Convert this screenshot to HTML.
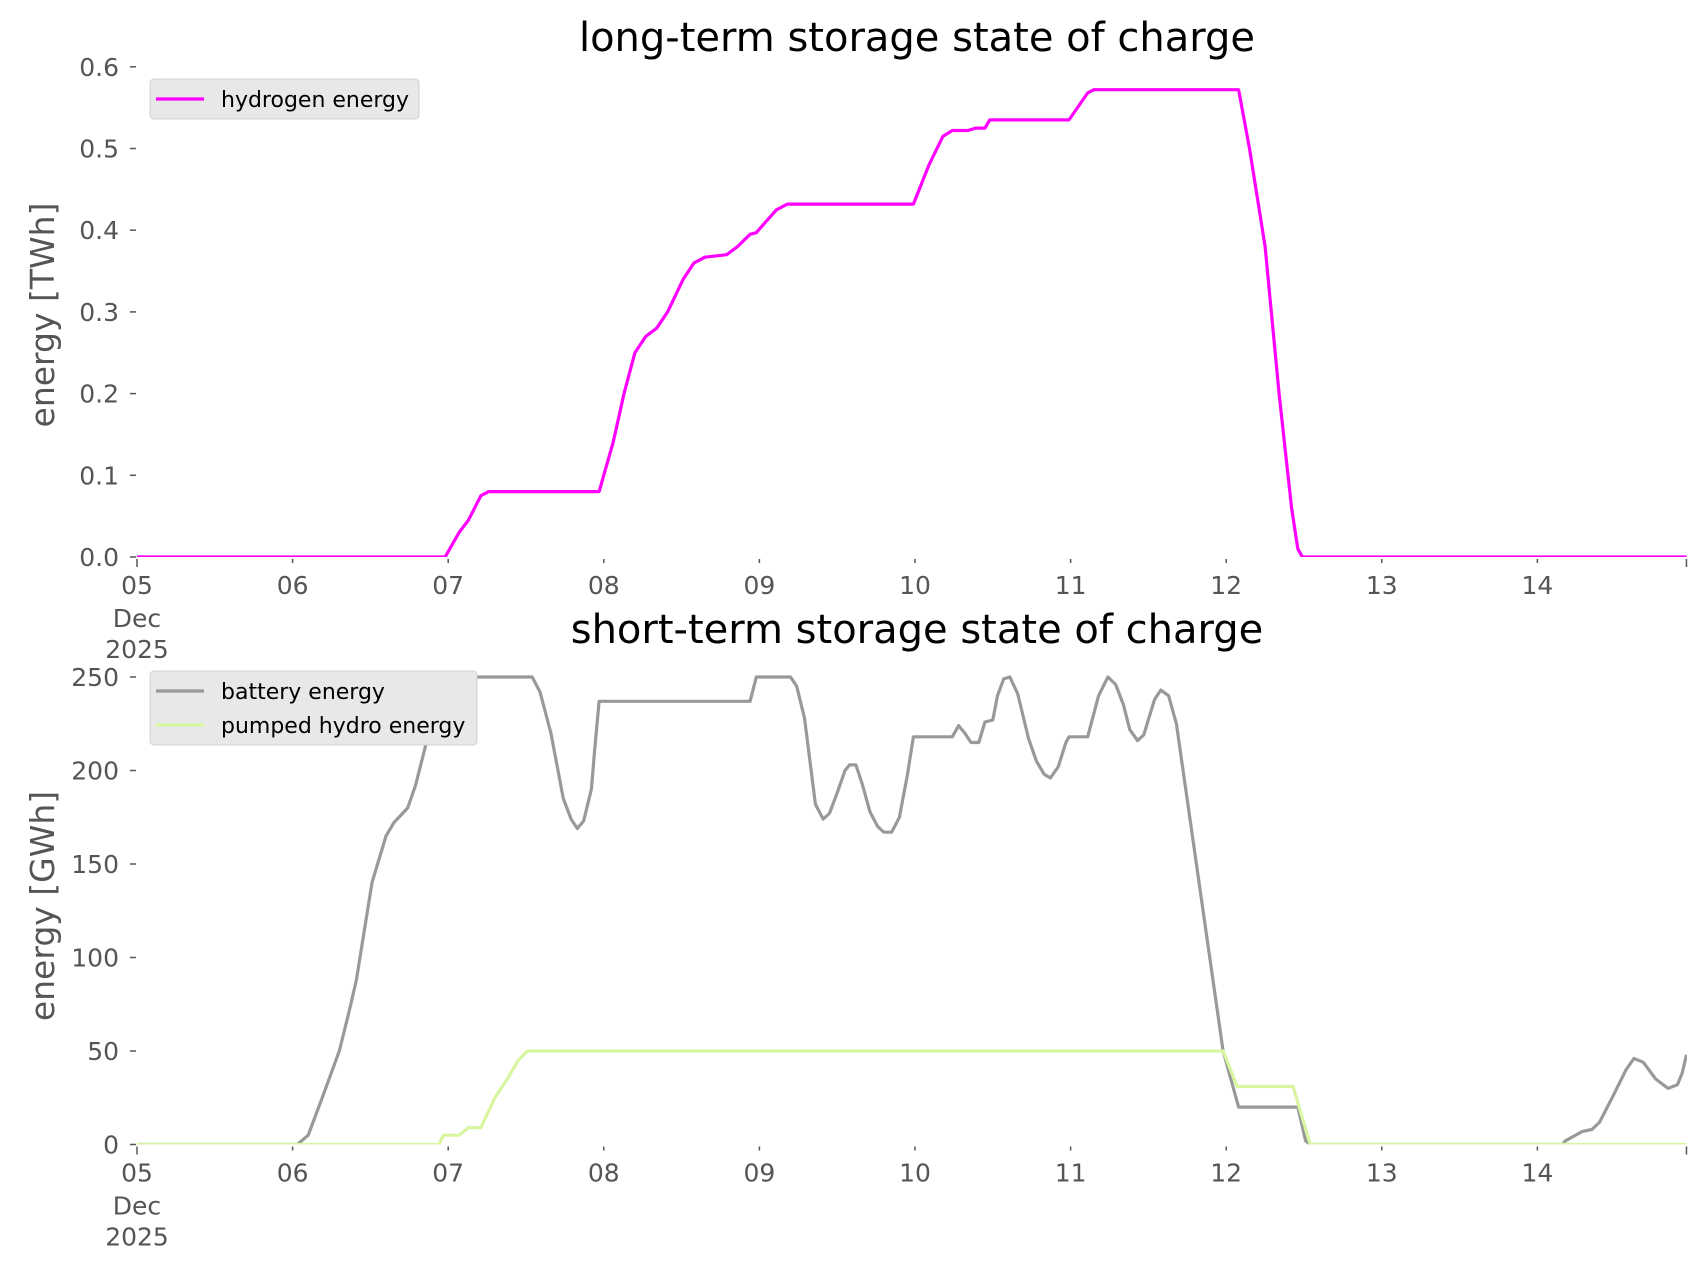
<!DOCTYPE html>
<html><head><meta charset="utf-8"><style>
body{margin:0;background:#fff}
svg{display:block;font-family:"DejaVu Sans","Liberation Sans",sans-serif}
</style></head><body>
<svg id="chart" width="1706" height="1277" viewBox="0 0 1706 1277" xmlns="http://www.w3.org/2000/svg">
<defs>
<clipPath id="clipTop"><rect x="137" y="40" width="1550" height="517"/></clipPath>
<clipPath id="clipBot"><rect x="137" y="640" width="1550" height="504.5"/></clipPath>
</defs>
<g id="topg"></g>
<g id="botg"></g>
</svg>
<script>
const dayLabels=["05","06","07","08","09","10","11","12","13","14"];
const topTicks=[0,0.1,0.2,0.3,0.4,0.5,0.6];
const botTicks=[0,50,100,150,200,250];
const h2Days=[0,1.98,2.07,2.13,2.21,2.26,2.97,3.06,3.13,3.2,3.27,3.34,3.41,3.51,3.58,3.65,3.79,3.86,3.94,3.98,4.04,4.11,4.18,4.99,5.09,5.18,5.24,5.34,5.39,5.45,5.48,5.99,6.11,6.15,7.08,7.15,7.2,7.25,7.29,7.34,7.38,7.42,7.46,7.49,9.958];
const h2Vals=[0,0,0.03,0.045,0.075,0.08,0.08,0.14,0.2,0.25,0.27,0.28,0.3,0.34,0.36,0.367,0.37,0.38,0.395,0.397,0.41,0.425,0.432,0.432,0.48,0.515,0.522,0.522,0.525,0.525,0.535,0.535,0.568,0.572,0.572,0.5,0.44,0.38,0.3,0.2,0.13,0.06,0.01,0,0];
const batDays=[0,1.03,1.10,1.19,1.30,1.36,1.41,1.51,1.60,1.65,1.74,1.79,1.86,1.93,1.97,2.54,2.59,2.66,2.74,2.79,2.83,2.87,2.92,2.94,2.97,3.94,3.98,4.20,4.24,4.29,4.36,4.41,4.45,4.50,4.55,4.58,4.62,4.66,4.71,4.76,4.80,4.85,4.90,4.95,4.99,5.24,5.28,5.32,5.36,5.41,5.45,5.50,5.53,5.57,5.61,5.66,5.73,5.78,5.83,5.87,5.92,5.97,5.99,6.11,6.18,6.24,6.29,6.34,6.38,6.43,6.47,6.54,6.58,6.63,6.68,6.98,7.08,7.46,7.51,7.54,9.16,9.18,9.29,9.35,9.4,9.48,9.57,9.62,9.68,9.76,9.84,9.9,9.93,9.958];
const batVals=[0,0,5,25,50,70,88,140,165,172,180,192,215,240,250,250,242,220,185,174,169,173,190,210,237,237,250,250,245,228,182,174,177,188,200,203,203,193,178,170,167,167,175,197,218,218,224,220,215,215,226,227,240,249,250,241,217,205,198,196,202,215,218,218,240,250,246,235,222,216,219,238,243,240,225,50,20,20,2,0,0,2,7,8,12,25,40,46,44,35,30,32,38,48];
const phDays=[0,1.94,1.97,2.07,2.13,2.21,2.30,2.38,2.45,2.51,6.98,7.07,7.43,7.54,9.958];
const phVals=[0,0,5,5,9,9,25,35,45,50,50,31,31,0,0];

const NS="http://www.w3.org/2000/svg";
const X0=137,DAY=155.6,XEND=9.958;
const xs=d=>X0+d*DAY;
const yTop=v=>557-v*817;
const yBot=v=>1144.5-v*1.87;
function mk(tag,attrs,parent,text){const e=document.createElementNS(NS,tag);for(const k in attrs)e.setAttribute(k,attrs[k]);if(text!==undefined)e.textContent=text;parent.appendChild(e);return e;}

function panel(g,yf,ticks,fmt,axisY,titleY,title,ylabel,labelY){
  let t=mk('text',{x:917,y:titleY,'font-size':40,'text-anchor':'middle',fill:'#000'},g,title);
  
  
  let yl=mk('text',{x:0,y:0,'font-size':33,'text-anchor':'middle',fill:'#555',transform:`translate(54,${labelY}) rotate(-90)`},g,ylabel);
  
  
  ticks.forEach(v=>{
    const y=yf(v);
    let tm=mk('line',{x1:130,x2:136,y1:y,y2:y,stroke:'#555','stroke-width':1.5},g);
    
    
    let tl=mk('text',{x:119,y:y+9,'font-size':25,'text-anchor':'end',fill:'#555'},g,fmt(v));
    
    
  });
  const tickDays=[0,1,2,3,4,5,6,7,8,9,XEND];
  tickDays.forEach((d,i)=>{
    const x=xs(d);
    let tm=mk('line',{x1:x,x2:x,y1:axisY+2,y2:axisY+(i===0||i===10?10:6),stroke:'#555','stroke-width':1.5},g);
    
    
    if(i<10){
      let tl=mk('text',{x:x,y:axisY+37,'font-size':25,'text-anchor':'middle',fill:'#555'},g,dayLabels[i]);
      
      
    }
  });
  let m=mk('text',{x:X0,y:axisY+70,'font-size':25,'text-anchor':'middle',fill:'#555'},g,'Dec');
  
  
  let yr=mk('text',{x:X0,y:axisY+101,'font-size':25,'text-anchor':'middle',fill:'#555'},g,'2025');
  
  
}
function series(g,days,vals,yf,color,clip,name){
  const d=days.map((dd,i)=>(i?'L':'M')+xs(dd).toFixed(1)+','+yf(vals[i]).toFixed(1)).join(' ');
  let p=mk('path',{d:d,fill:'none',stroke:color,'stroke-width':3.2,'stroke-linejoin':'round','clip-path':`url(#${clip})`},g);
  
  
}
function legend(g,x,y,w,entries){
  const h=entries.length*34+6;
  let r=mk('rect',{x:x,y:y,width:w,height:h,rx:4,fill:'#e8e8e8',stroke:'#d0d0d0'},g);
  
  
  entries.forEach((e,i)=>{
    const cy=y+20+i*34;
    let l=mk('line',{x1:x+6,x2:x+54,y1:cy,y2:cy,stroke:e[1],'stroke-width':3.2},g);
    
    
    let t=mk('text',{x:x+71,y:cy+8,'font-size':22,fill:'#000'},g,e[0]);
    
    
  });
}
const topPanel=document.getElementById('topg'),botPanel=document.getElementById('botg');
panel(topPanel,yTop,topTicks,v=>v.toFixed(1),557,51,'long-term storage state of charge','energy [TWh]',315);
series(topPanel,h2Days,h2Vals,yTop,'#ff00ff','clipTop','hydrogen-line');
legend(topPanel,150,79,269,[['hydrogen energy','#ff00ff']]);
panel(botPanel,yBot,botTicks,v=>String(v),1144.5,643,'short-term storage state of charge','energy [GWh]',906);
series(botPanel,batDays,batVals,yBot,'#999999','clipBot','battery-line');
series(botPanel,phDays,phVals,yBot,'#d8f5a0','clipBot','pumped-hydro-line');
legend(botPanel,150,671,327,[['battery energy','#999999'],['pumped hydro energy','#d8f5a0']]);
</script>
</body></html>
